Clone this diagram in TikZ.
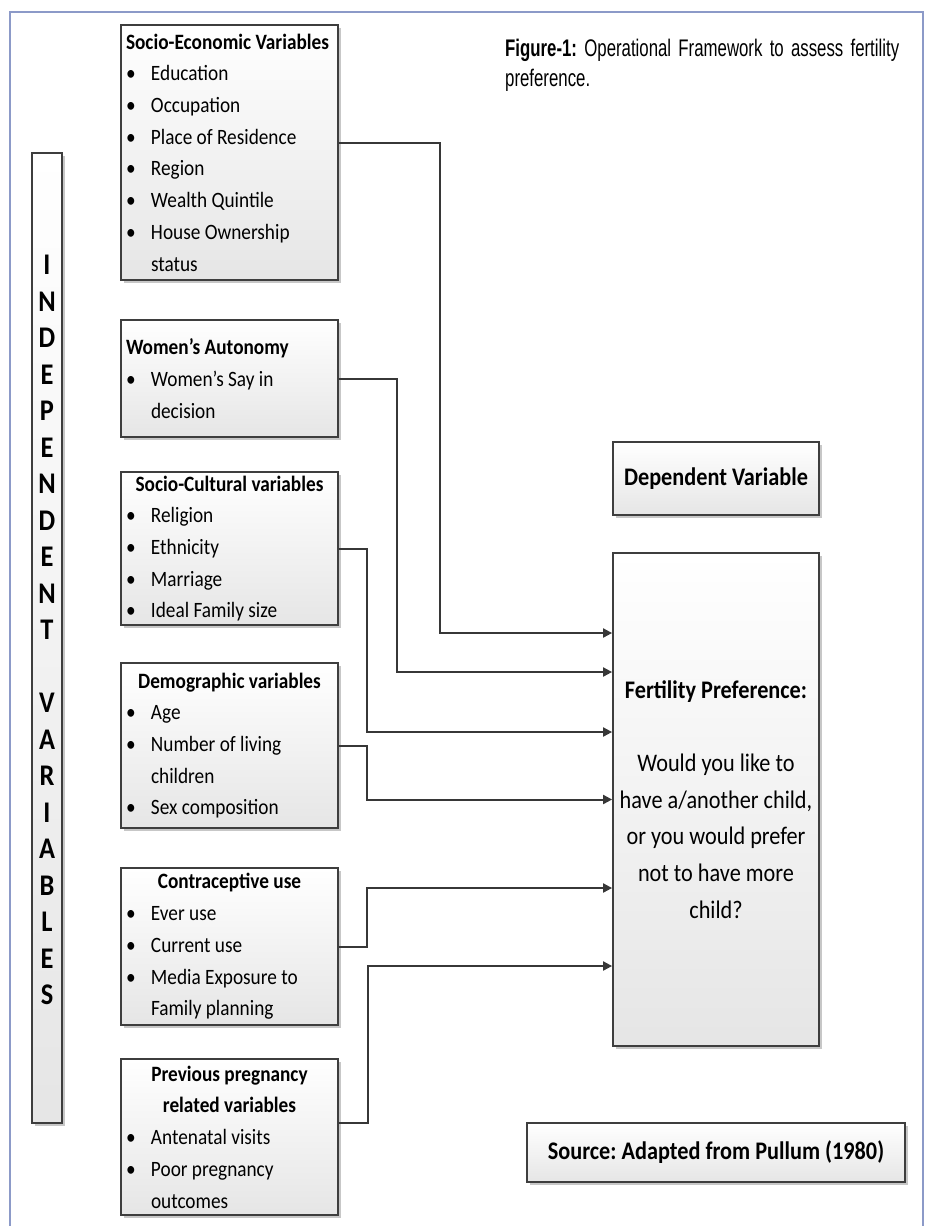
\documentclass[tikz,border=0pt]{standalone}
\usepackage{fontspec}
\setmainfont{Carlito}[FakeStretch=0.88]
\newfontfamily\capfont[FakeStretch=0.70]{Liberation Sans}
\usetikzlibrary{arrows.meta,shadows}
\setlength{\parindent}{0pt}
\frenchspacing
\definecolor{framec}{RGB}{140,154,200}
\definecolor{edgec}{RGB}{62,62,62}
\definecolor{linec}{RGB}{55,55,55}
\newcommand{\itm}{\makebox[25pt][l]{\textbullet}}
\newcommand{\cnt}{\hspace*{25pt}}
\newcommand{\hd}[1]{\makebox[\hsize]{\textbf{#1}}}
\begin{document}
\begin{tikzpicture}[x=1pt,y=-1pt,
  boxbase/.style={draw=edgec, line width=1.8pt, top color=white, bottom color=gray!20,
    drop shadow={shadow xshift=3pt, shadow yshift=-3pt, fill=black, opacity=0.22}},
  vbox/.style={boxbase, text width=207pt, inner xsep=5pt, inner ysep=0pt, align=flush left,
    font=\fontsize{21.9}{31.7}\selectfont},
  rbox/.style={boxbase, minimum width=206pt, inner sep=0pt, align=flush center,
    font=\fontsize{25.3}{36.6}\selectfont},
  conn/.style={draw=linec, line width=2pt, -{Triangle[length=9pt,width=9pt]}}]
\useasboundingbox (0,0) rectangle (925,1226);
\fill[white] (0,0) rectangle (925,1226);
\draw[framec, line width=2pt] (10,1226) -- (10,12) -- (923,12) -- (923,1226);

% caption
\node[anchor=north west, inner sep=0pt, align=flush left,
  font=\capfont\fontsize{24}{30}\selectfont] (cap) at (505,39)
  {\makebox[394pt][s]{\textbf{Figure-1:} Operational Framework to assess fertility}\\preference.};

% vertical label
\node[boxbase, minimum width=30pt, minimum height=970pt, inner sep=0pt] (indep) at (47,638) {};
\node[align=flush center, inner sep=0pt, font=\fontsize{30}{36.5}\selectfont\bfseries] (vl) at (47,630)
  {I\\N\\D\\E\\P\\E\\N\\D\\E\\N\\T\\~\\V\\A\\R\\I\\A\\B\\L\\E\\S};

% left boxes
\node[vbox, minimum height=255pt] (se) at (229.5,152.5)
  {\textbf{Socio-Economic Variables}\\\itm Education\\\itm Occupation\\\itm Place of Residence\\\itm Region\\\itm Wealth Quintile\\\itm House Ownership\\\cnt status};
\node[vbox, minimum height=117pt] (wa) at (229.5,378.5)
  {\textbf{Women’s Autonomy}\\\itm Women’s Say in\\\cnt decision};
\node[vbox, minimum height=153pt] (sc) at (229.5,548.5)
  {\hd{Socio-Cultural variables}\\\itm Religion\\\itm Ethnicity\\\itm Marriage\\\itm Ideal Family size};
\node[vbox, minimum height=165pt] (dem) at (229.5,745.5)
  {\hd{Demographic variables}\\\itm Age\\\itm Number of living\\\cnt children\\\itm Sex composition};
\node[vbox, minimum height=157pt] (cu) at (229.5,946.5)
  {\hd{Contraceptive use}\\\itm Ever use\\\itm Current use\\\itm Media Exposure to\\\cnt Family planning};
\node[vbox, minimum height=156pt] (pp) at (229.5,1137)
  {\hd{Previous pregnancy}\\\hd{related variables}\\\itm Antenatal visits\\\itm Poor pregnancy\\\cnt outcomes};

% right boxes
\node[rbox, minimum height=73pt] (dv) at (716,478.5) {\textbf{Dependent Variable}};
\node[rbox, minimum height=493pt, text width=200pt] (fp) at (716,799.5)
  {\textbf{Fertility Preference:}\\[36.6pt]Would you like to\\have a/another child,\\or you would prefer\\not to have more\\child?};
\node[rbox, minimum width=378pt, minimum height=59pt] (src) at (716,1152.5)
  {\textbf{Source: Adapted from Pullum (1980)}};

% connectors
\draw[conn] (se.east |- 0,143) -- (440,143) |- (fp.west |- 0,633);
\draw[conn] (wa.east) -- (397,378.5) |- (fp.west |- 0,672);
\draw[conn] (sc.east) -- (367,548.5) |- (fp.west |- 0,732);
\draw[conn] (dem.east) -- (367,745.5) |- (fp.west);
\draw[conn] (cu.east) -- (367,946.5) |- (fp.west |- 0,888);
\draw[conn] (pp.east |- 0,1123) -- (368,1123) |- (fp.west |- 0,966);
\end{tikzpicture}
\end{document}
